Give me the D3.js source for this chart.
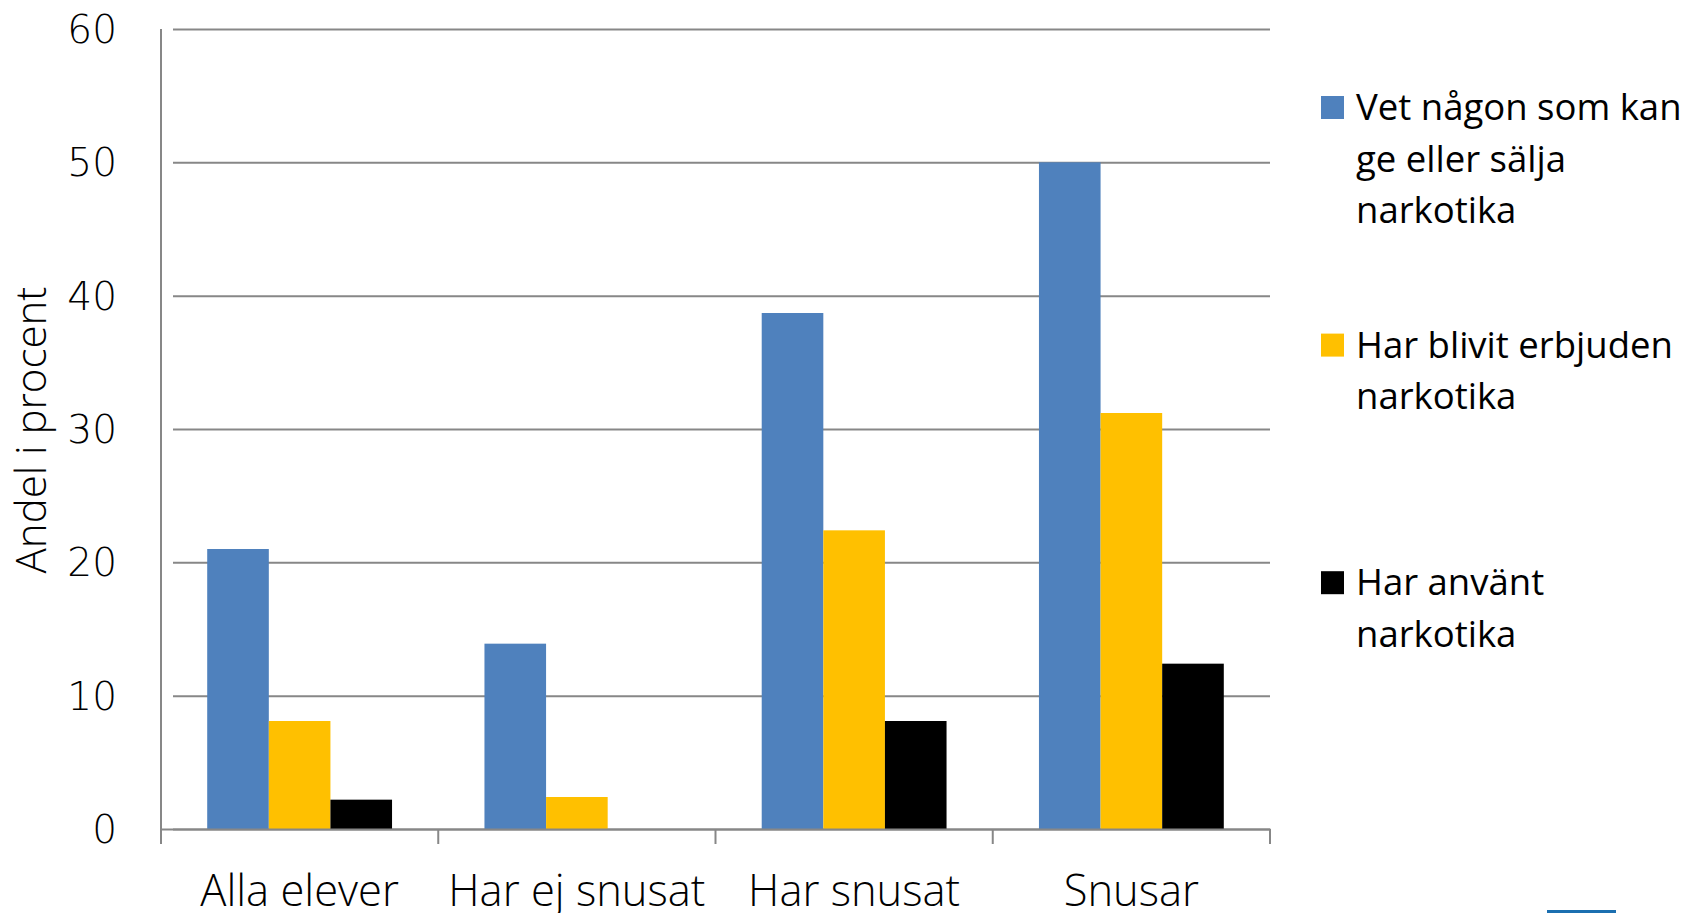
<!DOCTYPE html>
<html>
<head>
<meta charset="utf-8">
<script src="https://cdn.jsdelivr.net/npm/d3@7"></script>
<style>
  body { margin: 0; background: #fff; }
  svg { display: block; }
</style>
</head>
<body>
<svg id="chart"></svg>
<script>
// data
const categories = ["Alla elever", "Har ej snusat", "Har snusat", "Snusar"];
const seriesNames = ["Vet någon som kan ge eller sälja narkotika", "Har blivit erbjuden narkotika", "Har använt narkotika"];
const legendLines = [["Vet någon som kan", "ge eller sälja", "narkotika"], ["Har blivit erbjuden", "narkotika"], ["Har använt", "narkotika"]];
const vetNagon = [21.0, 13.9, 38.7, 50.0];
const erbjuden = [8.1, 2.4, 22.4, 31.2];
const anvant = [2.2, 0, 8.1, 12.4];
const colors = ["#4f81bd", "#ffc000", "#000000"];
const yTicks = [0, 10, 20, 30, 40, 50, 60];

const width = 1686, height = 913;
const margin = {top: 29, left: 161, right: 416, bottom: 84};

const svg = d3.select("#chart").attr("width", width).attr("height", height);

const x0 = d3.scaleBand().domain(categories).range([margin.left, width - margin.right]);
const bw = x0.bandwidth();
const pad = bw * 0.75 / 4.5; // excel gap width 150%
const x1 = d3.scaleBand().domain(d3.range(3)).range([pad, bw - pad]);
const y = d3.scaleLinear().domain([0, 60]).range([height - margin.bottom, margin.top]);

const grid = "#878787";

// gridlines + y ticks
svg.append("g")
  .attr("transform", `translate(${margin.left},0)`)
  .call(d3.axisLeft(y).tickValues(yTicks).tickSize(-(width - margin.left - margin.right)).tickSizeOuter(0).tickFormat(""))
  .call(g => g.select(".domain").remove())
  .call(g => g.selectAll("line").attr("stroke", grid).attr("stroke-width", 2).attr("x1", 12));

svg.append("g")
  .selectAll("text")
  .data(yTicks)
  .join("text")
  .attr("x", 117)
  .attr("y", d => y(d) + 14)
  .attr("text-anchor", "end")
  .style("font-family", "'DejaVu Sans', sans-serif")
  .style("font-weight", 300)
  .style("font-size", "39px")
  .attr("fill", "#000")
  .text(d => d);

// bars
const rows = categories.map((c, i) => [vetNagon[i], erbjuden[i], anvant[i]]);
svg.append("g")
  .selectAll("g")
  .data(rows)
  .join("g")
  .attr("transform", (d, i) => `translate(${x0(categories[i])},0)`)
  .selectAll("rect")
  .data(d => d)
  .join("rect")
  .attr("x", (d, j) => x1(j))
  .attr("width", x1.bandwidth())
  .attr("y", d => y(d))
  .attr("height", d => y(0) - y(d))
  .attr("fill", (d, j) => colors[j]);

// y axis line
svg.append("line")
  .attr("x1", margin.left).attr("x2", margin.left)
  .attr("y1", y(60)).attr("y2", y(0) + 15)
  .attr("stroke", grid).attr("stroke-width", 2);

// x axis
svg.append("g")
  .attr("transform", `translate(0,${y(0)})`)
  .call(d3.axisBottom(x0).tickSize(0).tickFormat(""))
  .call(g => g.select(".domain").attr("stroke", grid).attr("stroke-width", 2));

const xt = categories.map(c => x0(c)).concat([x0.range()[1]]);
svg.append("g")
  .selectAll("line")
  .data(xt)
  .join("line")
  .attr("x1", d => d).attr("x2", d => d)
  .attr("y1", y(0)).attr("y2", y(0) + 15)
  .attr("stroke", grid).attr("stroke-width", 2);

svg.append("g")
  .selectAll("text")
  .data(categories)
  .join("text")
  .attr("x", d => x0(d) + bw / 2)
  .attr("y", 906)
  .attr("text-anchor", "middle")
  .style("font-family", "'Open Sans', sans-serif")
  .style("font-weight", 300)
  .style("font-size", "43.5px")
  .attr("fill", "#000")
  .text(d => d);

// y axis title
svg.append("text")
  .attr("transform", `translate(46,430) rotate(-90)`)
  .attr("text-anchor", "middle")
  .style("font-family", "'Open Sans', sans-serif")
  .style("font-weight", 300)
  .style("font-size", "42px")
  .attr("fill", "#000")
  .text("Andel i procent");

// legend
const legend = svg.append("g")
  .selectAll("g")
  .data(seriesNames)
  .join("g")
  .attr("transform", (d, i) => `translate(1321,${96 + i * 237.6})`);

legend.append("rect")
  .attr("width", 23).attr("height", 23)
  .attr("fill", (d, i) => colors[i]);

legend.append("text")
  .style("font-family", "'Open Sans', sans-serif")
  .style("font-size", "36.5px")
  .attr("fill", "#000")
  .selectAll("tspan")
  .data((d, i) => legendLines[i])
  .join("tspan")
  .attr("x", 35)
  .attr("y", (d, k) => 24 + k * 51.6)
  .text(d => d);

// small blue mark at bottom right edge
svg.append("rect")
  .attr("x", 1547).attr("y", 910)
  .attr("width", 69).attr("height", 3)
  .attr("fill", "#1b6fb0");
</script>
</body>
</html>
